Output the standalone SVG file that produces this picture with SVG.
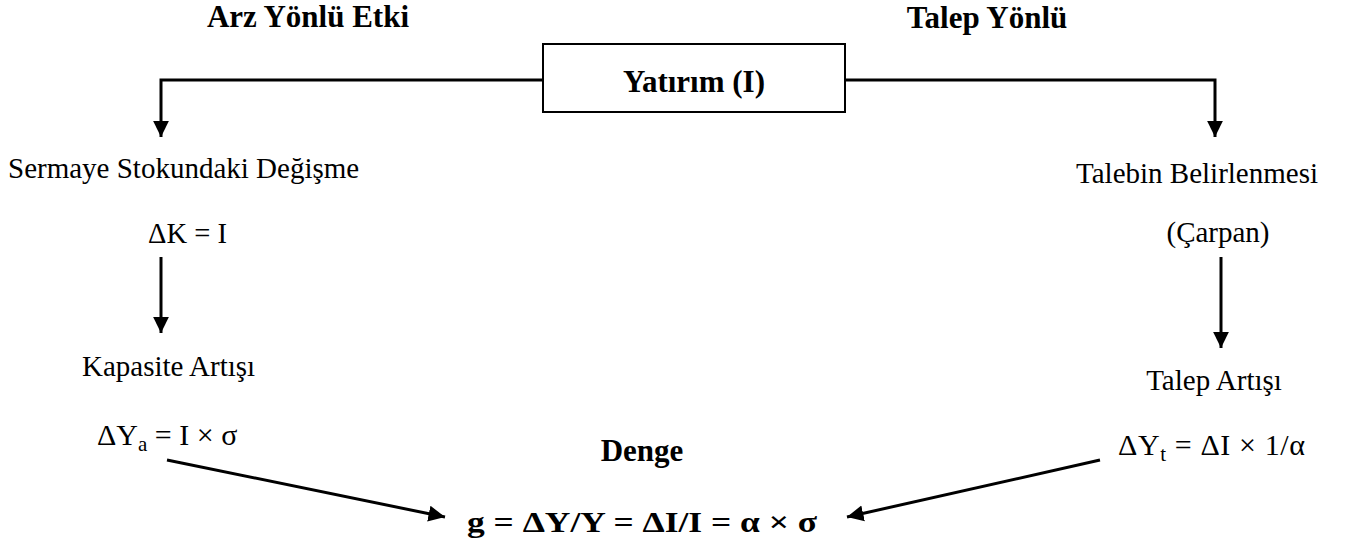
<svg xmlns="http://www.w3.org/2000/svg" width="1345" height="545" viewBox="0 0 1345 545">
<defs>
<style>
text{font-family:"Liberation Serif","Times New Roman",serif;fill:#000}
.h{font-size:31px;font-weight:bold}
.t{font-size:29px}
.m{font-size:30px;font-family:"Liberation Serif","DejaVu Serif",serif}
.ln{stroke:#000;stroke-width:3;fill:none}
.box{fill:#fff;stroke:#000;stroke-width:2}
</style>
<marker id="ah" markerWidth="6" markerHeight="6" refX="5.5" refY="3" orient="auto" markerUnits="strokeWidth">
<path d="M0,0.3 L5.5,3 L0,5.7 Z" fill="#000"/>
</marker>
</defs>
<rect width="1345" height="545" fill="#fff"/>
<g id="connectors">
<polyline class="ln" points="543,80 161,80 161,137" marker-end="url(#ah)"/>
<polyline class="ln" points="845,80 1215,80 1215,137" marker-end="url(#ah)"/>
<line class="ln" x1="161" y1="257" x2="161" y2="333" marker-end="url(#ah)"/>
<line class="ln" x1="1221" y1="257" x2="1221" y2="348" marker-end="url(#ah)"/>
<line class="ln" x1="167" y1="460" x2="445" y2="517" marker-end="url(#ah)"/>
<line class="ln" x1="1100" y1="460" x2="847" y2="517" marker-end="url(#ah)"/>
</g>
<g id="label-arz"><text class="h" x="308" y="27" text-anchor="middle">Arz Yönlü Etki</text></g>
<g id="label-talep"><text class="h" x="987" y="28" text-anchor="middle">Talep Yönlü</text></g>
<g id="node-yatirim">
<rect class="box" x="543" y="44" width="302" height="68"/>
<text class="h" x="694" y="92" text-anchor="middle">Yatırım (I)</text>
</g>
<g id="node-sermaye">
<text class="t" x="8" y="178">Sermaye Stokundaki Değişme</text>
<text class="m" x="148" y="243" textLength="79" lengthAdjust="spacingAndGlyphs">ΔK = I</text>
</g>
<g id="node-talebin">
<text class="t" x="1318" y="183" text-anchor="end">Talebin Belirlenmesi</text>
<text class="t" x="1218" y="242" text-anchor="middle">(Çarpan)</text>
</g>
<g id="node-kapasite">
<text class="t" x="82" y="376">Kapasite Artışı</text>
<text class="m" x="97" y="445">ΔY<tspan font-size="21" dy="6">a</tspan><tspan dy="-6"> = I × σ</tspan></text>
</g>
<g id="node-talep-artisi">
<text class="t" x="1214" y="390" text-anchor="middle">Talep Artışı</text>
<text class="m" x="1118" y="455" textLength="187" lengthAdjust="spacing">ΔY<tspan font-size="21" dy="6">t</tspan><tspan dy="-6"> = ΔI × 1/α</tspan></text>
</g>
<g id="node-denge">
<text class="h" x="642" y="461" text-anchor="middle">Denge</text>
<text class="m" x="467" y="532" font-weight="bold" textLength="350" lengthAdjust="spacingAndGlyphs">g = ΔY/Y = ΔI/I = α × σ</text>
</g>
</svg>
